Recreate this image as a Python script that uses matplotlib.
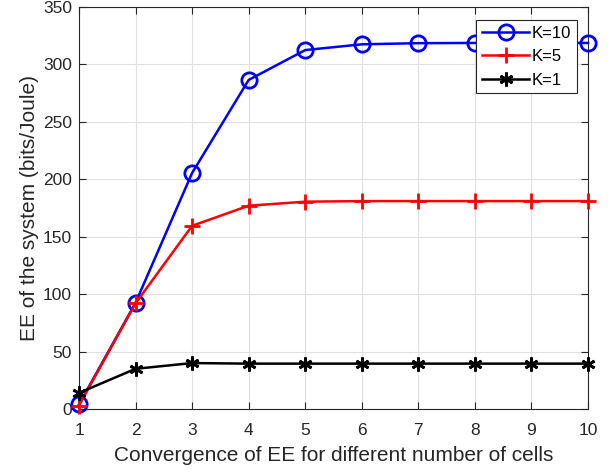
import matplotlib
matplotlib.use("Agg")
import matplotlib.pyplot as plt

plt.rcParams['font.family'] = ['Liberation Sans', 'DejaVu Sans']

x = [1, 2, 3, 4, 5, 6, 7, 8, 9, 10]
k10 = [4, 92.5, 205.5, 286.5, 312.5, 317.5, 318.5, 318.7, 318.7, 318.7]
k5 = [3, 92, 159.5, 177, 180.5, 181, 181, 181, 181, 181]
k1 = [14, 35, 40, 39.5, 39.5, 39.5, 39.5, 39.5, 39.5, 39.5]

fig = plt.figure(figsize=(6.16, 4.72), dpi=100)
L, R, T, B = 79, 588, 7, 409
ax = fig.add_axes([L / 616, 1 - B / 472, (R - L) / 616, (B - T) / 472])

ax.plot(x, k10, color='#0000ff', lw=1.8, marker='o', ms=11, mfc='none', mew=2, label='K=10', clip_on=False, zorder=3)
ax.plot(x, k5, color='#ff0000', lw=1.8, marker='+', ms=12, mew=2, label='K=5', clip_on=False, zorder=4)
ax.plot(x, k1, color='#000000', lw=1.8, marker=(6, 2, 0), ms=10, mew=2, label='K=1', clip_on=False, zorder=5)

ax.set_xlim(1, 10)
ax.set_ylim(0, 350)
ax.set_xticks(x)
ax.set_yticks(range(0, 351, 50))
ax.grid(True, color='#e0e0e0', lw=0.8)
ax.set_axisbelow(True)
ax.tick_params(direction='in', top=True, right=True, labelsize=12.5, colors='#262626', length=5)
ax.tick_params(axis='x', pad=10)
ax.tick_params(axis='y', pad=5)
for s in ax.spines.values():
    s.set_color('#262626')
    s.set_linewidth(0.8)

ax.set_xlabel('Convergence of EE for different number of cells', fontsize=15, color='#262626', labelpad=6)
ax.set_ylabel('EE of the system (bits/Joule)', fontsize=15, color='#262626', labelpad=3)

leg = ax.legend(loc='upper right', bbox_to_anchor=(1 - 11 / 509, 1 - 13 / 402), fontsize=12, frameon=True,
                fancybox=False, edgecolor='#262626', framealpha=1, borderpad=0.35, labelspacing=0.5,
                handlelength=2.85, handletextpad=0.15, borderaxespad=0)
leg.get_frame().set_linewidth(0.8)

fig.savefig('out.png', dpi=100)
